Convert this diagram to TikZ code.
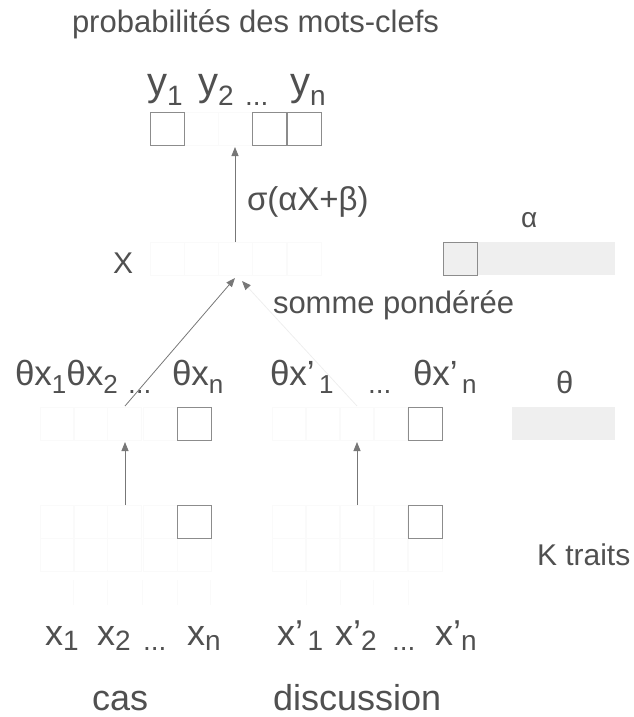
\documentclass[tikz,border=0pt]{standalone}
\usepackage{fontspec}
\setmainfont{Liberation Sans}
\usetikzlibrary{arrows.meta}
\definecolor{txt}{HTML}{505050}
\definecolor{bord}{HTML}{8C8C8C}
\definecolor{arr}{HTML}{777777}
\definecolor{lite}{HTML}{EFEFEF}
\definecolor{faint}{HTML}{FAFAFA}
\definecolor{fadeline}{HTML}{EEEEEE}
\newcommand{\fs}[1]{\fontsize{#1}{#1}\selectfont}
% \msub[lowering]{main size}{main}{sub size}{sub}
\newcommand{\msub}[5][7pt]{{\fs{#2}#3}\raisebox{-#1}{\fs{#4}#5}}
\begin{document}
\begin{tikzpicture}[x=1pt,y=-1pt,
  lab/.style={inner sep=0pt, outer sep=0pt, anchor=base west, text=txt},
  box/.style={draw=bord, line width=0.9pt, inner sep=0pt, outer sep=0pt, minimum width=34pt, minimum height=33pt, anchor=north west},
  fbox/.style={draw=faint, line width=0.6pt, inner sep=0pt, outer sep=0pt, minimum width=34pt, minimum height=33pt, anchor=north west},
  bar/.style={fill=lite, draw=none, inner sep=0pt, outer sep=0pt, minimum height=33pt, anchor=north west},
  arrowst/.style={draw=arr, line width=0.8pt, -{Triangle[length=9pt,width=7pt]}},
  fadearrow/.style={draw=fadeline, line width=0.8pt, -{Triangle[length=9pt,width=7pt,color=arr]}}]
\useasboundingbox (0,0) rectangle (634,717);

% title
\node[lab] (title) at (72,33) {\fs{31}probabilités des mots-clefs};

% output labels
\node[lab] (ly1) at (147,95) {\msub[10pt]{40}{y}{28}{1}};
\node[lab] (ly2) at (198,95) {\msub[10pt]{40}{y}{28}{2}};
\node[lab] (lyd) at (245,105) {\fs{28}...};
\node[lab] (lyn) at (290,95) {\msub[10pt]{40}{y}{28}{n}};

% output boxes
\node[fbox] (yf) at (184,112) {};
\node[fbox] (yf2) at (218,112) {};
\node[box] (yb1) at (150,112) {};
\node[box] (yb2) at (252,112) {};
\node[box] (yb3) at (287,112) {};

% sigma label
\node[lab] (sig) at (247,210) {\fs{33}σ(αX+β)};

% X row (faint boxes)
\node[lab] (lX) at (113,273) {\fs{30}X};
\node[fbox] (xf1) at (150,242) {};
\node[fbox] (xf2) at (184,242) {};
\node[fbox] (xf3) at (218,242) {};
\node[fbox] (xf4) at (252,242) {};
\node[fbox] (xf5) at (287,242) {};
\node[lab] (somme) at (273,313) {\fs{31}somme pondérée};

% alpha
\node[lab] (lalpha) at (521,227) {\fs{28}α};
\node[bar, minimum width=137pt] (abar) at (478,242) {};
\node[box, fill=lite] (abox) at (443,242) {};

% theta
\node[lab] (ltheta) at (556,393) {\fs{31}θ};
\node[bar, minimum width=103pt] (tbar) at (512,407) {};

% theta x labels
\node[lab] (tx12) at (15,385) {\msub[8pt]{35}{θx}{26}{1}\msub[8pt]{35}{θx}{26}{2}};
\node[lab] (txd) at (128,393) {\fs{28}...};
\node[lab] (txn) at (172,385) {\msub[8pt]{35}{θx}{26}{n}};
\node[lab] (txp1) at (270,385) {\msub[8pt]{35}{θx’}{26}{\,1}};
\node[lab] (txpd) at (368,393) {\fs{28}...};
\node[lab] (txpn) at (413,385) {\msub[8pt]{35}{θx’}{26}{\,n}};

% faint grids (cas)
\foreach \i/\xx in {1/40,2/73,3/107,4/143}{
  \node[fbox] (ct\i) at (\xx,407) {};
  \node[fbox] (cf\i) at (\xx,505) {};
  \node[fbox] (cg\i) at (\xx,538) {};
}
\node[fbox] (cg5) at (177,538) {};
% faint grids (discussion)
\foreach \i/\xx in {1/272,2/305,3/340,4/373}{
  \node[fbox] (dt\i) at (\xx,407) {};
  \node[fbox] (df\i) at (\xx,505) {};
  \node[fbox] (dg\i) at (\xx,538) {};
}
\node[fbox] (dg5) at (408,538) {};
\foreach \xx in {73,107,142,177,210,306,340,373,408}{
  \draw[faint, line width=0.6pt] (\xx,580) -- (\xx,605);
}

% visible boxes
\node[box] (tb1) at (177,407) {};
\node[box] (tb2) at (408,407) {};
\node[box] (fb1) at (177,505) {};
\node[box] (fb2) at (408,505) {};

\node[lab] (ktraits) at (537,565) {\fs{30}K traits};

% input labels
\node[lab] (x1) at (45,645) {\msub[5pt]{36}{x}{28}{1}};
\node[lab] (x2) at (97,645) {\msub[5pt]{36}{x}{28}{2}};
\node[lab] (xd) at (143,650) {\fs{28}...};
\node[lab] (xn) at (187,645) {\msub[5pt]{36}{x}{28}{n}};
\node[lab] (xp1) at (277,645) {\msub[5pt]{36}{x’}{28}{\,1}};
\node[lab] (xp2) at (335,645) {\msub[5pt]{36}{x’}{28}{2}};
\node[lab] (xpd) at (392,650) {\fs{28}...};
\node[lab] (xpn) at (435,645) {\msub[5pt]{36}{x’}{28}{n}};

\node[lab] (cas) at (92,710) {\fs{36}cas};
\node[lab] (disc) at (273,710) {\fs{36}discussion};

% connectors
\coordinate (xtop) at (235,242);
\coordinate (ybot) at (235,147);
\coordinate (xin) at (235,278);
\coordinate (xin2) at (242,281);
\coordinate (c1) at (125,406);
\coordinate (c2) at (357,406);
\coordinate (f1) at (125,505);
\coordinate (f2) at (357,505);
\coordinate (t1) at (125,442);
\coordinate (t2) at (357,442);
\draw[arrowst] (xtop) -- (ybot);
\draw[arrowst] (c1) -- (xin);
\draw[fadearrow] (c2) -- (xin2);
\draw[arrowst] (f1) -- (t1);
\draw[arrowst] (f2) -- (t2);
\end{tikzpicture}
\end{document}
